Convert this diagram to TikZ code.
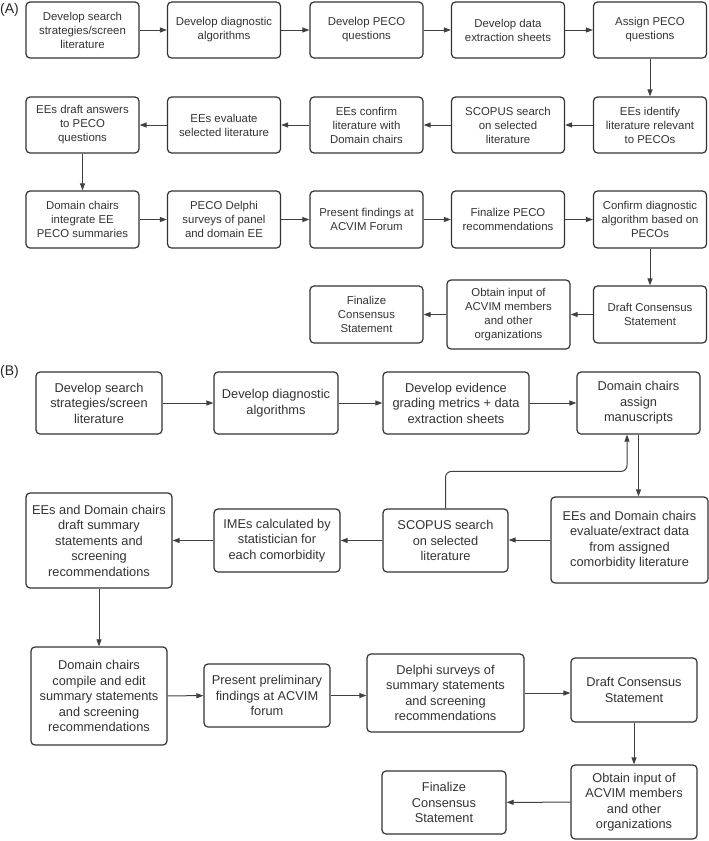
\documentclass[tikz,border=0pt]{standalone}
\usepackage{fontspec}
\setmainfont{Liberation Sans}
\usetikzlibrary{arrows.meta}

\begin{document}
\begin{tikzpicture}[x=1pt, y=-1pt,
  box/.style={draw=black!80, line width=1.2pt, rounded corners=4pt, align=center,
    text=black!80, inner sep=0pt},
  boxA/.style={box, minimum width=113pt, minimum height=56pt,
    font=\fontsize{11.4}{14}\selectfont},
  boxB/.style 2 args={box, minimum width=#1, minimum height=#2,
    font=\fontsize{12.8}{15.5}\selectfont},
  arr/.style={draw=black!75, line width=1pt, -{Triangle[length=7pt,width=5pt]}},
  panel/.style={anchor=west, inner sep=0pt, text=black!85, font=\fontsize{14}{16}\selectfont}]
  \useasboundingbox (0,0) rectangle (709,841);

  % Panel A
  \begin{scope}[shift={(0,0)}]
    \node[panel] (labA) at (0,10) {(A)};
    % first row
    \node[boxA] (a1) at (82.5,30) {Develop search\\strategies/screen\\literature};
    \node[boxA] (a2) at (224,30) {Develop diagnostic\\algorithms};
    \node[boxA] (a3) at (366.5,30) {Develop PECO\\questions};
    \node[boxA] (a4) at (508,30) {Develop data\\extraction sheets};
    \node[boxA] (a5) at (650,30) {Assign PECO\\questions};
    % second row, right to left
    \node[boxA] (a6) at (650,125) {EEs identify\\literature relevant\\to PECOs};
    \node[boxA] (a7) at (508,125) {SCOPUS search\\on selected\\literature};
    \node[boxA] (a8) at (366.5,125) {EEs confirm\\literature with\\Domain chairs};
    \node[boxA] (a9) at (224,125) {EEs evaluate\\selected literature};
    \node[boxA] (a10) at (82.5,125) {EEs draft answers\\to PECO\\questions};
    % third row
    \node[boxA, minimum height=57pt] (a11) at (82.5,219.5) {Domain chairs\\integrate EE\\PECO summaries};
    \node[boxA, minimum height=57pt] (a12) at (224,219.5) {PECO Delphi\\surveys of panel\\and domain EE};
    \node[boxA, minimum height=57pt] (a13) at (366.5,219.5) {Present findings at\\ACVIM Forum};
    \node[boxA, minimum height=57pt] (a14) at (508,219.5) {Finalize PECO\\recommendations};
    \node[boxA, minimum height=57pt] (a15) at (650,219.5) {Confirm diagnostic\\algorithm based on\\PECOs};
    % last row
    \node[boxA, minimum height=57pt] (a16) at (650,314.5) {Draft Consensus\\Statement};
    \node[boxA, minimum width=123pt, minimum height=69pt] (a17) at (508.5,314.5) {Obtain input of\\ACVIM members\\and other\\organizations};
    \node[boxA, minimum height=57pt] (a18) at (366.5,314.5) {Finalize\\Consensus\\Statement};

    \foreach \i/\j in {a1/a2, a2/a3, a3/a4, a4/a5, a5/a6, a6/a7, a7/a8, a8/a9,
      a9/a10, a10/a11, a11/a12, a12/a13, a13/a14, a14/a15, a15/a16, a16/a17, a17/a18}
      \draw[arr] (\i) -- (\j);
  \end{scope}

  % Panel B
  \begin{scope}[shift={(0,360)}]
    \node[panel] (labB) at (0,12) {(B)};
    % first row
    \node[boxB={126pt}{62pt}] (b1) at (99,43) {Develop search\\strategies/screen\\literature};
    \node[boxB={124pt}{62pt}] (b2) at (276,43) {Develop diagnostic\\algorithms};
    \node[boxB={146pt}{62pt}] (b3) at (456,43) {Develop evidence\\grading metrics + data\\extraction sheets};
    \node[boxB={123pt}{62pt}] (b4) at (638.5,43) {Domain chairs\\assign\\manuscripts};
    % second row, right to left
    \node[boxB={157pt}{86pt}] (b5) at (629.5,180) {EEs and Domain chairs\\evaluate/extract data\\from assigned\\comorbidity literature};
    \node[boxB={125pt}{63pt}] (b6) at (445.5,180.5) {SCOPUS search\\on selected\\literature};
    \node[boxB={126pt}{63pt}] (b7) at (277,180.5) {IMEs calculated by\\statistician for\\each comorbidity};
    \node[boxB={146pt}{95pt}] (b8) at (99,180.5) {EEs and Domain chairs\\draft summary\\statements and\\screening\\recommendations};
    % third row
    \node[boxB={136pt}{98pt}] (b9) at (99,336) {Domain chairs\\compile and edit\\summary statements\\and screening\\recommendations};
    \node[boxB={126pt}{63pt}] (b10) at (267,335.5) {Present preliminary\\findings at ACVIM\\forum};
    \node[boxB={157pt}{78pt}] (b11) at (445.5,333) {Delphi surveys of\\summary statements\\and screening\\recommendations};
    \node[boxB={126pt}{64pt}] (b12) at (634,330) {Draft Consensus\\Statement};
    % last row
    \node[boxB={126pt}{74pt}] (b13) at (634,442) {Obtain input of\\ACVIM members\\and other\\organizations};
    \node[boxB={124pt}{63pt}] (b14) at (444,442.5) {Finalize\\Consensus\\Statement};

    \draw[arr] (b1) -- (b2);
    \draw[arr] (b2) -- (b3);
    \draw[arr] (b3) -- (b4);
    \draw[arr] (b4.south) -- (b4.south |- b5.north);
    \draw[arr] (b5.west) -- (b5.west -| b6.east);
    \draw[arr] (b6) -- (b7);
    \draw[arr] (b7) -- (b8);
    \draw[arr, rounded corners=6pt] (b6.north) -- ++(0,-37) -| ([xshift=-11.5pt]b4.south);
    \draw[arr] (b8) -- (b9);
    \draw[arr] (b9) -- (b10);
    \draw[arr] (b10.east) -- (b10.east -| b11.west);
    \draw[arr] (b11.east) -- (b11.east -| b12.west);
    \draw[arr] (b12) -- (b13);
    \draw[arr] (b13) -- (b14);
  \end{scope}
\end{tikzpicture}
\end{document}
